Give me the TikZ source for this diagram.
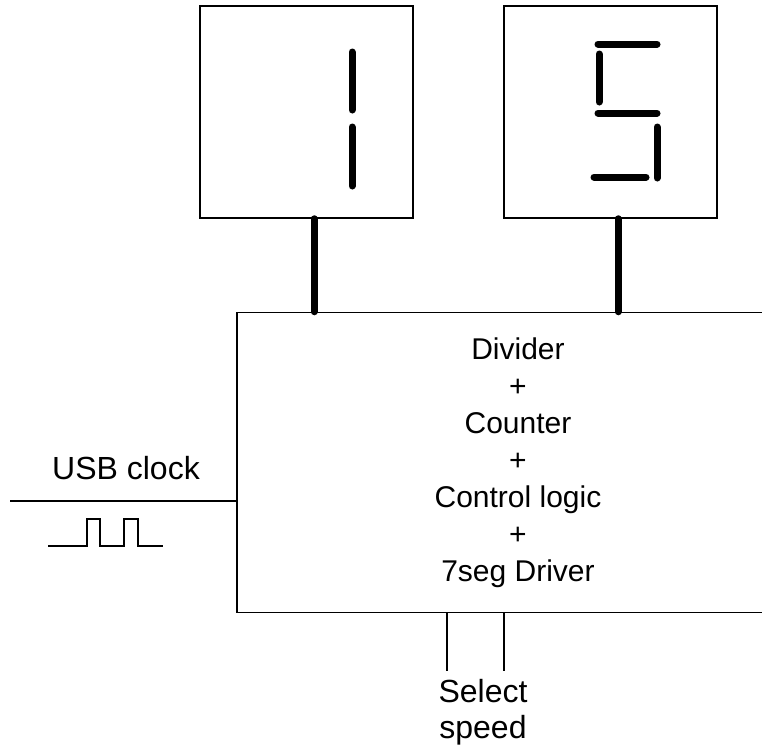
\documentclass[tikz,border=0pt]{standalone}
\usepackage{fontspec}
\setmainfont{Liberation Sans}
\usetikzlibrary{positioning}

\begin{document}
\begin{tikzpicture}[x=1pt, y=-1pt,
                    wire/.style={
                        line width=1.5pt
                    },
                    bus/.style={
                        line width=7pt,
                        line cap=round
                    },
                    segment/.style={
                        line width=7pt,
                        line cap=round
                    },
                    digitbox/.style={
                        draw,
                        line width=1.5pt,
                        minimum width=213pt,
                        minimum height=212pt,
                        inner sep=0pt
                    },
                    logicbox/.style={
                        draw,
                        line width=1.5pt,
                        minimum width=562pt,
                        minimum height=300pt,
                        align=center,
                        font=\fontsize{30}{37}\selectfont
                    },
                    label/.style={
                        align=center,
                        inner sep=0pt,
                        font=\fontsize{32}{36}\selectfont
                    }
                ]

    \useasboundingbox (0,0) rectangle (762,748);
    \clip (0,0) rectangle (762,748);

    % Two display digits (left and right)
    \node[digitbox] (digA) at (306.5,112) {};
    \node[digitbox] (digB) at (610.5,112) {};

    % Digit "1"
    \draw[segment] (352,52) -- (352,110);
    \draw[segment] (352,127) -- (352,186);

    % Digit "5"
    \draw[segment] (598,44) -- (657,44);
    \draw[segment] (599,54) -- (599,102);
    \draw[segment] (598,113) -- (657,113);
    \draw[segment] (657,127) -- (657,178);
    \draw[segment] (594,177) -- (646,177);

    % Main logic block (right side runs off the page)
    \node[logicbox] (logic) at (518,462.5)
        {Divider\\+\\Counter\\+\\Control logic\\+\\7seg Driver};

    % Buses from the block up to the digits
    \draw[bus] ([xshift=7.5pt]digA.south) -- ([xshift=7.5pt]digA.south |- logic.north);
    \draw[bus] ([xshift=7.5pt]digB.south) -- ([xshift=7.5pt]digB.south |- logic.north);

    % USB clock input
    \coordinate (clkin) at (10,501);
    \draw[wire] (clkin) -- (clkin -| logic.west);
    \node[label, anchor=base] (clklabel) at (126,479) {USB clock};

    % Clock waveform
    \draw[wire] (48,546) -- (87,546) -- (87,519) -- (100,519) -- (100,546)
        -- (124,546) -- (124,519) -- (138,519) -- (138,546) -- (163,546);

    % Speed select inputs
    \coordinate (selA) at (447,671);
    \coordinate (selB) at (504,671);
    \draw[wire] (selA |- logic.south) -- (selA);
    \draw[wire] (selB |- logic.south) -- (selB);
    \node[label, anchor=base] (sellabel) at (483,738) {Select\\speed};

\end{tikzpicture}
\end{document}
